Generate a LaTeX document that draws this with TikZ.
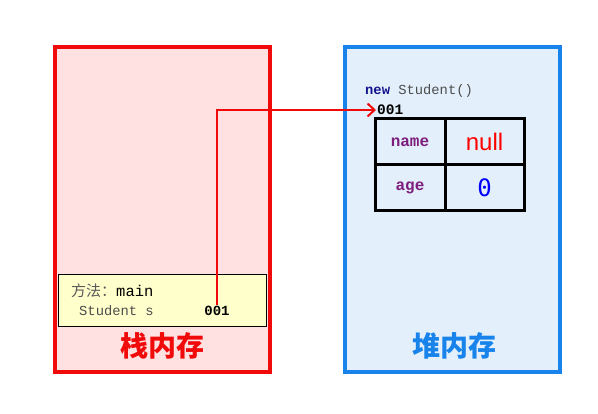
\documentclass[tikz,border=0pt]{standalone}
\usepackage{fontspec}
\setmonofont{Liberation Mono}
\newfontfamily\cjk{Noto Sans CJK SC}
\newfontfamily\valfont{DejaVu Sans Mono}
\newfontfamily\valsans{Liberation Sans}
\usetikzlibrary{arrows.meta}
\definecolor{stackred}{RGB}{240,10,10}
\definecolor{stackpink}{RGB}{255,225,225}
\definecolor{heapblue}{RGB}{24,132,235}
\definecolor{heapfill}{RGB}{227,239,251}
\definecolor{frameyellow}{RGB}{255,255,204}
\definecolor{fieldpurple}{RGB}{125,30,125}
\definecolor{kwnavy}{RGB}{20,20,140}
\begin{document}
\begin{tikzpicture}[x=1pt,y=-1pt,
  cell/.style={draw=black,line width=3pt,minimum height=46pt,inner sep=0pt},
  field/.style={font=\ttfamily\bfseries\fontsize{16}{16}\selectfont,text=fieldpurple},
  area/.style={font=\cjk\bfseries\fontsize{28}{28}\selectfont}]
\useasboundingbox (0,0) rectangle (598,414);
\fill[white] (0,0) rectangle (598,414);
%stack and heap areas
\draw[line width=4pt,stackred,fill=stackpink] (55,47) rectangle (270,372);
\draw[line width=4pt,heapblue,fill=heapfill] (345,47) rectangle (560,372);
\draw[fill=frameyellow] (58,274) rectangle (266,326);
\node[area,text=stackred] (stack) at (162,346) {栈内存};
\node[area,text=heapblue] (heap) at (454,346) {堆内存};
%method frame
\node[anchor=west,inner sep=0pt] (method) at (71,291) {{\cjk\fontsize{15}{15}\selectfont\color{black!65}方法：}{\ttfamily\fontsize{15.5}{15.5}\selectfont main}};
\node[anchor=west,inner sep=0pt] (var) at (79,311) {\ttfamily\fontsize{13.8}{13.8}\selectfont\color{black!70}Student s};
\node[inner sep=1pt] (ref) at (217,311) {\ttfamily\bfseries\fontsize{14}{14}\selectfont 001};
%object
\node[anchor=west,inner sep=0pt] (new) at (365,91) {\ttfamily\fontsize{13.8}{13.8}\selectfont{\bfseries\color{kwnavy}new} \color{black!70}Student()};
\node[anchor=west,inner sep=1pt] (addr) at (376,110) {\ttfamily\bfseries\fontsize{14.5}{14.5}\selectfont 001};
\node[cell,minimum width=70pt] (name) at (410,142) {};
\node[cell,minimum width=79pt] (nameval) at (484.5,142) {};
\node[cell,minimum width=70pt] (age) at (410,188) {};
\node[cell,minimum width=79pt] (ageval) at (484.5,188) {};
\node[field] at (name) {name};
\node[field] at (age) {age};
\node[font=\valsans\fontsize{24}{24}\selectfont,text=red] at (nameval) {null};
\node[font=\valfont\fontsize{24}{24}\selectfont,text=blue] at (ageval) {0};
%reference
\draw[stackred,line width=2pt,-{Straight Barb[length=7pt,width=13pt]}] (ref.north) |- (addr.west);
\end{tikzpicture}
\end{document}
